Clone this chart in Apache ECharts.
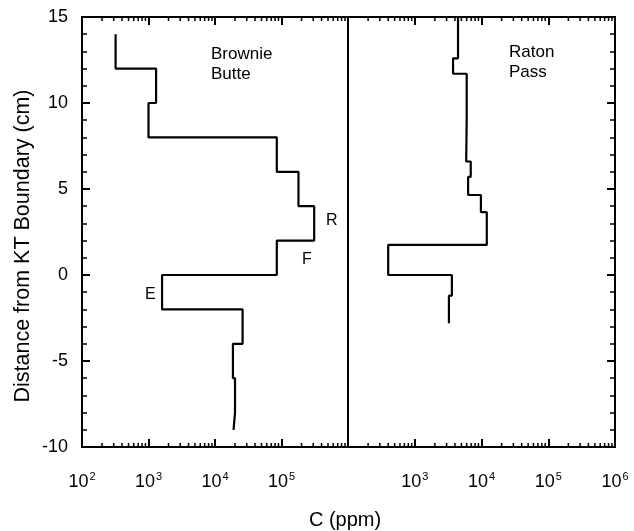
<!DOCTYPE html>
<html>
<head>
<meta charset="utf-8">
<script src="https://cdn.jsdelivr.net/npm/echarts@6/dist/echarts.min.js"></script>
<style>
  html, body { margin: 0; padding: 0; background: #fff; }
  #chart { width: 634px; height: 531px; }
</style>
</head>
<body>
<div id="chart"></div>
<script>
// Brownie Butte: depth breakpoints (cm, top to bottom) and carbon concentration (ppm) in each interval
const bbDepths = [14, 12, 10, 8, 6, 4, 2, 0, -2, -4, -6, -8, -9];
const bbConc   = [320, 1300, 1000, 85000, 180000, 310000, 85000, 1600, 26000, 18600, 20000, 19000];

// Raton Pass: depth breakpoints (cm) and concentration (ppm)
const rpDepths = [15, 12.6, 11.7, 9.1, 6.6, 5.7, 4.65, 3.65, 1.75, 0, -1.2, -2.8];
const rpConc   = [4450, 3750, 6000, 5900, 6900, 6300, 9800, 12000, 400, 3600, 3250];

// Axis tick settings
const yTicks = [-10, -5, 0, 5, 10, 15];
const xRange = [100, 1000000];

// Minor log ticks: 2..9 x 10^k
const minorTicks = [];
for (let e = 2; e < 6; e++) {
  for (let m = 2; m <= 9; m++) minorTicks.push(m * Math.pow(10, e));
}

// Turn interval lists into a stepped profile path
function stepProfile(depths, conc) {
  const pts = [];
  for (let i = 0; i < conc.length; i++) {
    pts.push([conc[i], depths[i]]);
    pts.push([conc[i], depths[i + 1]]);
  }
  return pts;
}

const FONT = 'Liberation Sans';
const INK = '#000';

function xLabel(hideVal) {
  return function (v) {
    if (Math.abs(v - hideVal) < 1e-6 * hideVal) return '';
    const e = Math.round(Math.log10(v));
    return '{b|10}{s|' + e + '}';
  };
}

const rich = {
  b: { fontSize: 18, fontFamily: FONT, color: INK, verticalAlign: 'bottom', lineHeight: 20 },
  s: { fontSize: 11, fontFamily: FONT, color: INK, verticalAlign: 'top', lineHeight: 20, padding: [0, 0, 6, 1] }
};

function makeX(gridIndex, position, showLabels, hideVal) {
  return {
    type: 'log', logBase: 10, gridIndex: gridIndex, position: position,
    min: xRange[0], max: xRange[1],
    axisLine: { show: true, onZero: false, lineStyle: { color: INK, width: 2 } },
    axisTick: { show: true, inside: true, length: 8, lineStyle: { color: INK, width: 2 } },
    axisLabel: showLabels
      ? { show: true, margin: 24, formatter: xLabel(hideVal), rich: rich }
      : { show: false },
    splitLine: { show: false }
  };
}

function makeY(gridIndex, position, showLabels) {
  return {
    type: 'value', gridIndex: gridIndex, position: position,
    min: yTicks[0], max: yTicks[yTicks.length - 1], interval: 5,
    axisLine: { show: true, onZero: false, lineStyle: { color: INK, width: 2 } },
    axisTick: { show: true, inside: true, length: 8, lineStyle: { color: INK, width: 2 } },
    minorTick: { show: true, splitNumber: 5, length: 5, lineStyle: { color: INK, width: 1.5 } },
    axisLabel: showLabels
      ? { show: true, margin: 14, fontSize: 18, fontFamily: FONT, color: INK }
      : { show: false },
    splitLine: { show: false }
  };
}

// Minor log ticks drawn on top and bottom frame edges
function minorTickSeries(xi, yi) {
  const data = [];
  minorTicks.forEach(v => { data.push([v, yTicks[yTicks.length - 1], 1]); data.push([v, yTicks[0], -1]); });
  return {
    type: 'custom', xAxisIndex: xi, yAxisIndex: yi, silent: true, clip: false,
    data: data,
    renderItem: function (params, api) {
      const p = api.coord([api.value(0), api.value(1)]);
      const dir = api.value(2);
      return {
        type: 'line',
        shape: { x1: p[0], y1: p[1], x2: p[0], y2: p[1] + dir * 4 },
        style: { stroke: INK, lineWidth: 1.5 }
      };
    }
  };
}

const lineStyle = { color: INK, width: 2.2 };

const option = {
  backgroundColor: '#fff',
  animation: false,
  grid: [
    { left: 82, top: 17, width: 266, height: 430, show: true, borderColor: INK, borderWidth: 2, backgroundColor: 'transparent' },
    { left: 348, top: 17, width: 267, height: 430, show: true, borderColor: INK, borderWidth: 2, backgroundColor: 'transparent' }
  ],
  xAxis: [
    makeX(0, 'bottom', true, 1000000),
    makeX(0, 'top', false),
    makeX(1, 'bottom', true, 100),
    makeX(1, 'top', false)
  ],
  yAxis: [
    makeY(0, 'left', true),
    makeY(1, 'right', false)
  ],
  series: [
    {
      type: 'line', xAxisIndex: 0, yAxisIndex: 0, data: stepProfile(bbDepths, bbConc),
      symbol: 'none', lineStyle: lineStyle, silent: true
    },
    {
      type: 'line', xAxisIndex: 2, yAxisIndex: 1, data: stepProfile(rpDepths, rpConc),
      symbol: 'none', lineStyle: lineStyle, silent: true
    },
    minorTickSeries(0, 0),
    minorTickSeries(2, 1)
  ],
  graphic: [
    { type: 'text', left: 211, top: 44, style: { text: 'Brownie\nButte', fontSize: 17, lineHeight: 20, fontFamily: FONT, fill: INK } },
    { type: 'text', left: 509, top: 42, style: { text: 'Raton\nPass', fontSize: 17, lineHeight: 20, fontFamily: FONT, fill: INK } },
    { type: 'text', left: 326, top: 213, style: { text: 'R', fontSize: 16, fontFamily: FONT, fill: INK } },
    { type: 'text', left: 302, top: 252, style: { text: 'F', fontSize: 16, fontFamily: FONT, fill: INK } },
    { type: 'text', left: 145, top: 287, style: { text: 'E', fontSize: 16, fontFamily: FONT, fill: INK } },
    { type: 'text', x: 345, y: 520, style: { text: 'C (ppm)', fontSize: 20, fontFamily: FONT, fill: INK, align: 'center', verticalAlign: 'middle' } },
    { type: 'text', x: 23, y: 246, rotation: Math.PI / 2, style: { text: 'Distance from KT Boundary (cm)', fontSize: 21.5, fontFamily: FONT, fill: INK, align: 'center', verticalAlign: 'middle' } }
  ]
};

const chart = echarts.init(document.getElementById('chart'), null, { renderer: 'canvas' });
chart.setOption(option);
</script>
</body>
</html>
